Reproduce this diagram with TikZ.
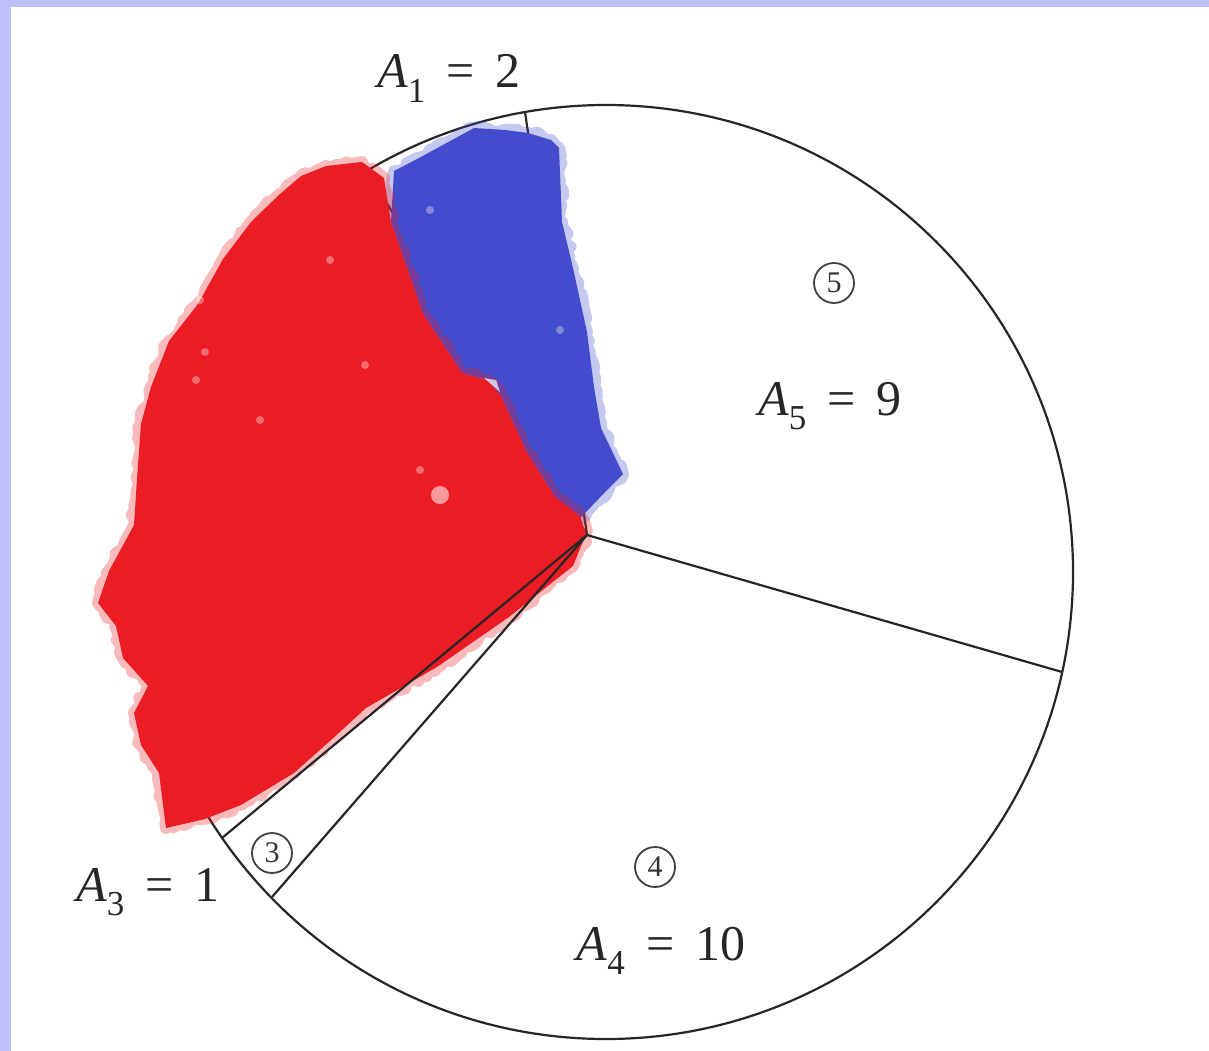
\documentclass[tikz,border=0pt]{standalone}
\usepackage{fontspec}
\setmainfont{Liberation Serif}
\usetikzlibrary{decorations.pathmorphing}
\definecolor{frame}{RGB}{192,192,248}
\definecolor{blobred}{RGB}{236,28,36}
\definecolor{blobblue}{RGB}{66,76,204}

\begin{document}
\begin{tikzpicture}[x=1pt, y=-1pt,
  ray/.style={draw=black!85, line width=2.2pt},
  lbl/.style={font=\fontsize{50}{56}\selectfont, text=black!85, anchor=base, inner sep=0pt},
  num/.style={draw=black!75, circle, line width=1.8pt, minimum size=40pt, inner sep=0pt, font=\fontsize{30}{32}\selectfont, text=black!80},
  halo/.style={line width=12pt, opacity=0.3, line join=round, decorate, decoration={random steps, segment length=5pt, amplitude=3pt}}]
\useasboundingbox (0,0) rectangle (1209,1051);
\fill[frame] (0,0) rectangle (1209,1051);
\fill[white] (11,7) rectangle (1209,1051);

\coordinate (ctr) at (606,572);
\coordinate (apex) at (587,535);
\coordinate (p1) at (525,112);
\coordinate (p2) at (368,172);
\coordinate (p3) at (222,838);
\coordinate (p4) at (272,897);
\coordinate (p5) at (1062,672);

\draw[ray] (ctr) circle[radius=467];
\foreach \p in {p1,p2} \draw[ray] (apex) -- (\p);

\def\blueblob{(394,171) -- (419,158) -- (474,128) -- (505,130) -- (528,133) -- (551,140) -- (559,148) -- (562,222) -- (573,268) -- (587,332) -- (594,387) -- (601,428) -- (623,474) -- (609,488) -- (587,511) -- (578,520) -- (555,497) -- (526,451) -- (501,396) -- (487,380) -- (462,373) -- (423,314) -- (391,222) -- cycle}
\def\redblob{(301,176) -- (326,166) -- (362,162) -- (384,178) -- (391,222) -- (423,314) -- (462,373) -- (487,380) -- (501,396) -- (526,451) -- (555,497) -- (580,516) -- (586,534) -- (573,566) -- (544,589) -- (509,617) -- (437,667) -- (366,708) -- (330,741) -- (294,773) -- (241,805) -- (205,819) -- (166,828) -- (159,773) -- (141,745) -- (134,713) -- (148,686) -- (123,658) -- (116,626) -- (98,603) -- (109,571) -- (134,525) -- (137,479) -- (141,424) -- (151,387) -- (169,341) -- (198,304) -- (223,259) -- (251,222) -- (280,194) -- cycle}

% blobs
\draw[halo, draw=blobblue] \blueblob;
\fill[blobblue] \blueblob;
\draw[halo, draw=blobred] \redblob;
\fill[blobred] \redblob;
\fill[white, opacity=0.55] (440,495) circle[radius=9];
\fill[white, opacity=0.7] (484,378) -- (496,380) -- (500,392) -- cycle;
\foreach \x/\y in {365,205/352,196/380,200/300,260/420,330/260,420/470,560/330,430/210,620} \fill[white, opacity=0.35] (\x,\y) circle[radius=4];

\foreach \p in {p3,p4,p5} \draw[ray] (apex) -- (\p);

\node[lbl] (a1) at (449,88) {\textit{A}\textsubscript{1} \,=\, 2};
\node[lbl] (a5) at (830,415) {\textit{A}\textsubscript{5} \,=\, 9};
\node[lbl] (a4) at (661,960) {\textit{A}\textsubscript{4} \,=\, 10};
\node[lbl] (a3) at (148,901) {\textit{A}\textsubscript{3} \,=\, 1};
\node[num] (n5) at (834,283) {5};
\node[num] (n4) at (655,867) {4};
\node[num] (n3) at (272,853) {3};
\end{tikzpicture}
\end{document}
